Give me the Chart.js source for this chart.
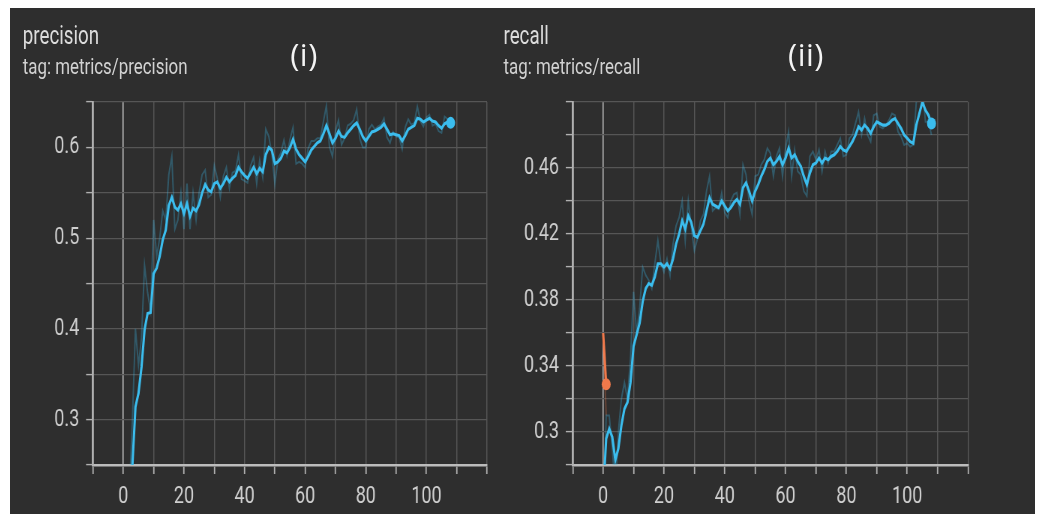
<!DOCTYPE html>
<html>
<head>
<meta charset="utf-8">
<script src="https://cdn.jsdelivr.net/npm/chart.js@4.4.1/dist/chart.umd.min.js"></script>
<style>
  html, body { margin: 0; padding: 0; background: #fff; }
  #panel { position: absolute; left: 10px; top: 8px; width: 1025px; height: 506px; background: #2e2e2e; overflow: hidden; }
  /* the screenshot is squeezed sideways, so the charts are too */
  #squeeze { position: absolute; left: 0; top: 0; width: 1367px; height: 506px; transform: scaleX(0.75); transform-origin: 0 0; }
  .title { position: absolute; top: 15px; font-family: Roboto, sans-serif; font-size: 25px; line-height: 1; color: #dcdcdc; white-space: nowrap; }
  .tag { position: absolute; top: 47px; font-family: Roboto, sans-serif; font-size: 22.5px; line-height: 1; color: #d2d2d2; white-space: nowrap; }
  .label { position: absolute; top: 31px; width: 100px; text-align: center; font-family: "Open Sans", sans-serif; font-size: 31px; letter-spacing: 0.5px; line-height: 1; color: #f4f4f4; }
  canvas { position: absolute; top: 0; }
</style>
</head>
<body>
<div id="panel">
  <div id="squeeze">
    <div class="title" style="left:17px">precision</div>
    <div class="tag" style="left:17px">tag: metrics/precision</div>
    <div class="title" style="left:658px">recall</div>
    <div class="tag" style="left:658px">tag: metrics/recall</div>
    <canvas id="precisionChart" width="680" height="506" style="left:0"></canvas>
    <canvas id="recallChart" width="680" height="506" style="left:680px"></canvas>
  </div>
  <div class="label" style="left:244px">(i)</div>
  <div class="label" style="left:746px">(ii)</div>
</div>
<script>
const xTickLabels = [0, 20, 40, 60, 80, 100];
const precisionTickLabels = [0.3, 0.4, 0.5, 0.6];
const recallTickLabels = [0.3, 0.34, 0.38, 0.42, 0.46];

// smoothed and raw values per epoch (0..108)
const precisionSmooth = [0.10,0.14,0.19,0.25,0.314,0.329,0.358,0.399,0.417,0.418,
  0.461,0.467,0.480,0.498,0.509,0.536,0.545,0.534,0.531,0.538,
  0.527,0.538,0.524,0.533,0.530,0.537,0.550,0.559,0.553,0.551,
  0.560,0.562,0.555,0.560,0.567,0.562,0.566,0.569,0.578,0.573,
  0.569,0.566,0.572,0.578,0.571,0.577,0.573,0.592,0.600,0.597,
  0.582,0.584,0.588,0.596,0.594,0.600,0.609,0.598,0.592,0.588,
  0.584,0.590,0.597,0.601,0.605,0.607,0.615,0.624,0.615,0.605,
  0.610,0.618,0.612,0.611,0.616,0.620,0.624,0.627,0.620,0.612,
  0.607,0.612,0.617,0.618,0.620,0.622,0.626,0.620,0.614,0.615,
  0.614,0.613,0.607,0.613,0.620,0.622,0.624,0.632,0.631,0.628,
  0.630,0.632,0.629,0.628,0.624,0.621,0.626,0.628,0.627];
const precisionRaw = [0.10,0.16,0.22,0.30,0.40,0.36,0.39,0.47,0.44,0.42,
  0.52,0.48,0.50,0.53,0.52,0.57,0.59,0.51,0.52,0.55,
  0.51,0.56,0.51,0.55,0.52,0.55,0.57,0.575,0.545,0.548,
  0.58,0.566,0.545,0.568,0.578,0.555,0.572,0.574,0.592,0.565,
  0.563,0.561,0.58,0.589,0.56,0.586,0.567,0.62,0.612,0.593,
  0.56,0.587,0.594,0.608,0.591,0.609,0.622,0.582,0.584,0.582,
  0.578,0.599,0.607,0.607,0.61,0.61,0.628,0.646,0.601,0.59,
  0.618,0.63,0.603,0.61,0.624,0.626,0.63,0.642,0.61,0.60,
  0.60,0.62,0.625,0.62,0.623,0.625,0.632,0.611,0.605,0.617,
  0.612,0.611,0.598,0.622,0.631,0.625,0.627,0.645,0.629,0.623,
  0.633,0.636,0.624,0.626,0.618,0.616,0.634,0.631,0.625];
const recallSmooth = [0.262,0.296,0.302,0.297,0.283,0.290,0.304,0.314,0.318,0.330,
  0.352,0.359,0.366,0.379,0.387,0.390,0.389,0.394,0.402,0.402,
  0.400,0.402,0.399,0.405,0.414,0.420,0.428,0.423,0.431,0.427,
  0.419,0.418,0.422,0.426,0.434,0.442,0.438,0.437,0.436,0.440,
  0.437,0.434,0.436,0.439,0.441,0.438,0.448,0.451,0.446,0.440,
  0.446,0.450,0.455,0.459,0.464,0.466,0.462,0.464,0.467,0.462,
  0.466,0.472,0.466,0.468,0.464,0.461,0.455,0.450,0.457,0.462,
  0.463,0.466,0.463,0.466,0.465,0.467,0.468,0.470,0.473,0.471,
  0.470,0.473,0.476,0.480,0.485,0.483,0.486,0.484,0.481,0.485,
  0.488,0.487,0.486,0.486,0.487,0.489,0.490,0.487,0.484,0.480,
  0.478,0.476,0.475,0.486,0.493,0.500,0.495,0.492,0.487];
const recallRaw = [0.24,0.31,0.31,0.29,0.265,0.30,0.32,0.33,0.32,0.345,
  0.385,0.36,0.375,0.40,0.395,0.392,0.387,0.402,0.416,0.402,
  0.397,0.405,0.395,0.414,0.425,0.43,0.44,0.416,0.44,0.424,
  0.41,0.417,0.428,0.432,0.446,0.455,0.434,0.436,0.435,0.445,
  0.433,0.43,0.44,0.444,0.445,0.432,0.462,0.456,0.44,0.432,
  0.455,0.456,0.462,0.465,0.472,0.469,0.455,0.467,0.472,0.455,
  0.472,0.482,0.455,0.471,0.458,0.456,0.446,0.443,0.467,0.47,
  0.465,0.471,0.458,0.47,0.463,0.47,0.47,0.474,0.478,0.467,
  0.468,0.478,0.48,0.487,0.494,0.48,0.49,0.48,0.476,0.492,
  0.493,0.485,0.484,0.486,0.489,0.493,0.492,0.482,0.479,0.474,
  0.475,0.473,0.474,0.50,0.503,0.51,0.488,0.488,0.48];
// second (orange) run, only two epochs
const recall2Smooth = [0.36, 0.329];
const recall2Raw = [0.36, 0.31];

const BLUE = '#3bbdee';
const BLUE_FAINT = 'rgba(59,189,238,0.3)';
const ORANGE = '#f0794b';
const ORANGE_FAINT = 'rgba(240,121,75,0.3)';

Chart.defaults.font.family = 'Roboto, sans-serif';

function toPoints(values) {
  return values.map((v, i) => ({ x: i, y: v }));
}

function lastDot(values, r) {
  return ctx => (ctx.dataIndex === values.length - 1 ? r : 0);
}

function makeChart(id, datasets, yMin, yMax, yStep, yLabels, yWidth, padRight) {
  return new Chart(document.getElementById(id), {
    type: 'line',
    data: { datasets: datasets },
    options: {
      responsive: false,
      animation: false,
      events: [],
      layout: { padding: { top: 94, bottom: 4, left: 0, right: padRight } },
      plugins: { legend: { display: false }, tooltip: { enabled: false } },
      elements: { line: { tension: 0 } },
      scales: {
        x: {
          type: 'linear',
          min: -10,
          max: 120,
          afterFit: s => { s.height = 45; s.paddingLeft = 0; s.paddingRight = 0; },
          border: { color: '#bcbcbc', width: 2.6 },
          grid: {
            color: c => (c.tick && c.tick.value === 0 ? '#c4c4c4' : '#565656'),
            lineWidth: 1.5,
            tickLength: 9,
            tickColor: '#b0b0b0',
            tickWidth: 1.8
          },
          ticks: {
            stepSize: 10,
            autoSkip: false,
            maxRotation: 0,
            padding: 9,
            color: '#cfcfcf',
            font: { size: 24 },
            callback: v => (xTickLabels.includes(v) ? String(v) : '')
          }
        },
        y: {
          min: yMin,
          max: yMax,
          afterFit: s => { s.width = yWidth; s.paddingTop = 0; s.paddingBottom = 0; },
          border: { color: '#b0b0b0', width: 2.8 },
          grid: { color: '#565656', lineWidth: 1.2, tickLength: 9.3, tickColor: '#b0b0b0', tickWidth: 1.4 },
          ticks: {
            stepSize: yStep,
            autoSkip: false,
            padding: 9,
            color: '#cfcfcf',
            font: { size: 24 },
            callback: v => {
              const hit = yLabels.find(t => Math.abs(t - v) < 1e-6);
              return hit === undefined ? '' : String(hit);
            }
          }
        }
      }
    }
  });
}

makeChart('precisionChart', [
  { data: toPoints(precisionSmooth), borderColor: BLUE, borderWidth: 3.1, order: 0,
    pointRadius: lastDot(precisionSmooth, 6), pointBackgroundColor: BLUE, pointBorderWidth: 0 },
  { data: toPoints(precisionRaw), borderColor: BLUE_FAINT, borderWidth: 2, pointRadius: 0, order: 1 }
], 0.25, 0.65, 0.05, precisionTickLabels, 110.7, 44);

makeChart('recallChart', [
  { data: toPoints(recallSmooth), borderColor: BLUE, borderWidth: 3.1, order: 0,
    pointRadius: lastDot(recallSmooth, 6), pointBackgroundColor: BLUE, pointBorderWidth: 0 },
  { data: toPoints(recall2Smooth), borderColor: ORANGE, borderWidth: 3.1, order: 0,
    pointRadius: lastDot(recall2Smooth, 6), pointBackgroundColor: ORANGE, pointBorderWidth: 0 },
  { data: toPoints(recallRaw), borderColor: BLUE_FAINT, borderWidth: 2, pointRadius: 0, order: 1 },
  { data: toPoints(recall2Raw), borderColor: ORANGE_FAINT, borderWidth: 2, pointRadius: 0, order: 1 }
], 0.28, 0.5, 0.02, recallTickLabels, 70.3, 82.7);
</script>
</body>
</html>
